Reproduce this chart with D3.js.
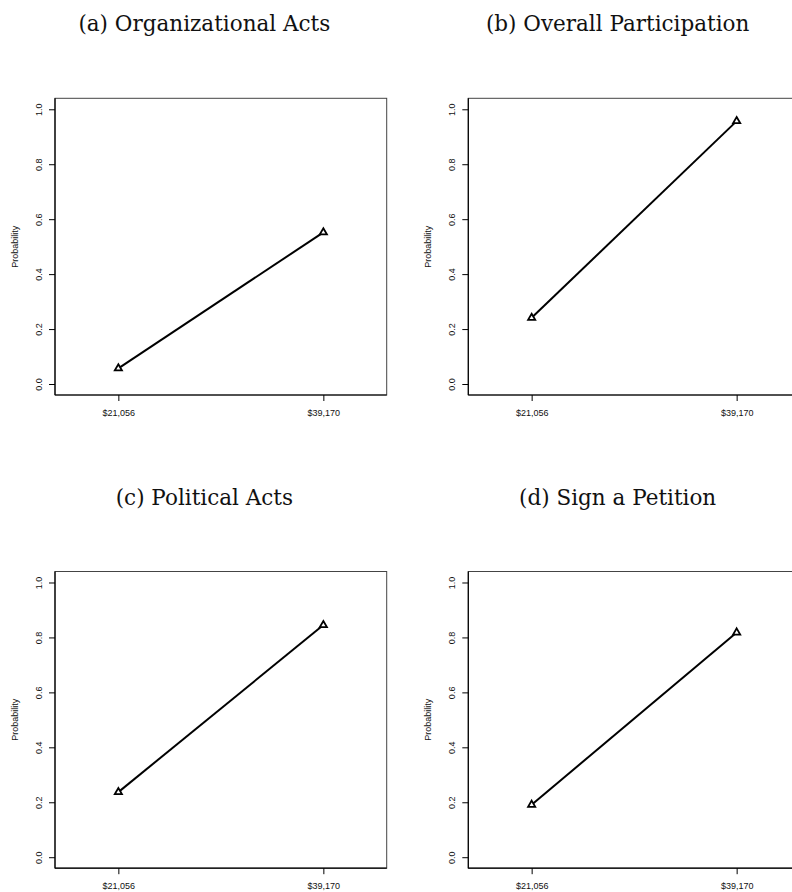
<!DOCTYPE html>
<html>
<head>
<meta charset="utf-8">
<script src="https://cdn.jsdelivr.net/npm/d3@7"></script>
<style>
  body { margin: 0; background: #fff; }
</style>
</head>
<body>
<svg width="792" height="892"></svg>
<script>
// incomes on the x axis, same for all four panels
const incomes = ['$21,056', '$39,170'];
const titles = ['(a) Organizational Acts', '(b) Overall Participation', '(c) Political Acts', '(d) Sign a Petition'];

// predicted probabilities
const orgActs = [0.057, 0.552];
const overall = [0.241, 0.957];
const politicalActs = [0.237, 0.845];
const petition = [0.191, 0.818];

const yTicks = [0, 0.2, 0.4, 0.6, 0.8, 1.0];

const panels = [orgActs, overall, politicalActs, petition];

const svg = d3.select('svg');

// panel boxes: top-left corners
const boxW = 331.7, boxH = 296.7;
const origins = [[55, 98.3], [468.3, 98.3], [55, 571.5], [468.3, 571.5]];

const x = d3.scalePoint().domain(incomes).range([0, boxW]).padding(0.309);
const y = d3.scaleLinear().domain([-0.04, 1.04]).range([boxH, 0]);

panels.forEach((vals, i) => {
  const [ox, oy] = origins[i];
  const g = svg.append('g').attr('transform', `translate(${ox},${oy})`);

  // title (sits a bit left of the box centre in the original)
  g.append('text')
    .attr('x', boxW / 2 - 16.5)
    .attr('y', -67)
    .attr('text-anchor', 'middle')
    .style('font-family', 'DejaVu Serif')
    .style('font-size', '21.5px')
    .attr('fill', '#111')
    .text(titles[i]);

  // box
  g.append('rect')
    .attr('width', boxW).attr('height', boxH)
    .attr('fill', 'none').attr('stroke', '#444').attr('stroke-width', 1);

  // y axis
  const ya = g.append('g')
    .call(d3.axisLeft(y).tickValues(yTicks).tickSize(6).tickFormat(d3.format('.1f')));
  ya.select('.domain').attr('d', `M0,0V${boxH}`).attr('stroke', '#000').attr('stroke-width', 1.2);
  ya.selectAll('text')
    .attr('x', 0).attr('y', -13.5).attr('dy', 0)
    .attr('transform', 'rotate(-90)')
    .attr('text-anchor', 'middle')
    .style('font-family', 'Liberation Sans, Arial, sans-serif')
    .style('font-size', '9px')
    .attr('fill', '#111');

  // x axis
  const xa = g.append('g')
    .attr('transform', `translate(0,${boxH})`)
    .call(d3.axisBottom(x).tickSize(6));
  xa.select('.domain').attr('d', `M0,0H${boxW}`).attr('stroke', '#000').attr('stroke-width', 1.2);
  xa.selectAll('text')
    .attr('y', 21).attr('dy', 0)
    .style('font-family', 'Liberation Sans, Arial, sans-serif')
    .style('font-size', '9px')
    .attr('fill', '#111');

  // y label
  g.append('text')
    .attr('transform', `translate(-37.5,${y(0.5)}) rotate(-90)`)
    .attr('text-anchor', 'middle')
    .style('font-family', 'Liberation Sans, Arial, sans-serif')
    .style('font-size', '9px')
    .attr('fill', '#111')
    .text('Probability');

  const pts = incomes.map((c, j) => [x(c), y(vals[j])]);

  g.append('path')
    .attr('d', d3.line()(pts))
    .attr('fill', 'none')
    .attr('stroke', '#000')
    .attr('stroke-width', 2);

  g.selectAll('.pt')
    .data(pts)
    .enter()
    .append('path')
    .classed('pt', true)
    .attr('transform', d => `translate(${d[0]},${d[1]})`)
    .attr('d', d3.symbol(d3.symbolTriangle, 22)())
    .attr('fill', '#fff')
    .attr('stroke', '#000')
    .attr('stroke-width', 1.8);
});
</script>
</body>
</html>
